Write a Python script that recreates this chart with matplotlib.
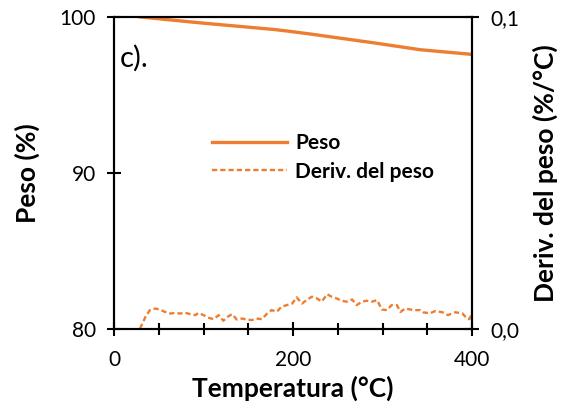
import matplotlib
matplotlib.use("Agg")
import matplotlib.pyplot as plt
from matplotlib.ticker import MultipleLocator, FuncFormatter

plt.rcParams['font.family'] = ['Lato', 'DejaVu Sans']

# weight curve (Peso, %)
temp_peso = [29, 100, 178, 193, 220, 245, 289, 342, 400]
peso = [100.0, 99.6, 99.2, 99.1, 98.9, 98.7, 98.35, 97.9, 97.6]

# derivative curve (%/°C)
temp_deriv = [29, 35, 40, 46, 51, 57, 63, 68, 74, 79, 85, 91, 94, 100, 105,
              111, 117, 122, 128, 132, 137, 143, 148, 154, 159, 165, 171,
              176, 182, 187, 193, 199, 204, 210, 215, 221, 227, 232, 238,
              243, 249, 254, 260, 266, 271, 277, 282, 288, 294, 299, 305,
              310, 316, 320, 325, 331, 336, 342, 345, 353, 359, 367, 373,
              381, 389, 394, 397, 400]
deriv = [0.0002, 0.0039, 0.0061, 0.0066, 0.0063, 0.0055, 0.0050, 0.0052,
         0.0050, 0.0053, 0.0048, 0.0045, 0.0052, 0.0045, 0.0037, 0.0032,
         0.0045, 0.0027, 0.0042, 0.0048, 0.0031, 0.0034, 0.0031, 0.0029,
         0.0034, 0.0032, 0.0050, 0.0061, 0.0056, 0.0072, 0.0077, 0.0082,
         0.0102, 0.0082, 0.0093, 0.0104, 0.0098, 0.0088, 0.0112, 0.0104,
         0.0098, 0.0091, 0.0088, 0.0095, 0.0077, 0.0088, 0.0091, 0.0088,
         0.0093, 0.0063, 0.0061, 0.0077, 0.0077, 0.0055, 0.0066, 0.0063,
         0.0061, 0.0061, 0.0054, 0.0051, 0.0058, 0.0054, 0.0045, 0.0054,
         0.0051, 0.0035, 0.0032, 0.0051]

orange = '#ED7D31'

fig = plt.figure(figsize=(5.62, 4.13), dpi=100)
ax = fig.add_axes([0.203, 0.203, 0.637, 0.756])
ax2 = ax.twinx()

l1, = ax.plot(temp_peso, peso, color=orange, lw=2.4, label='Peso')
l2, = ax2.plot(temp_deriv, deriv, color=orange, lw=1.7, ls=(0, (2.2, 1.3)),
               label='Deriv. del peso')

ax.set_xlim(0, 400)
ax.set_ylim(80, 100)
ax2.set_ylim(0, 0.1)

ax.xaxis.set_major_locator(MultipleLocator(200))
ax.xaxis.set_minor_locator(MultipleLocator(50))
ax.yaxis.set_major_locator(MultipleLocator(10))
ax2.yaxis.set_major_locator(MultipleLocator(0.1))
ax2.yaxis.set_major_formatter(FuncFormatter(lambda v, p: f'{v:.1f}'.replace('.', ',')))

for a in (ax, ax2):
    for s in a.spines.values():
        s.set_linewidth(1.5)
    a.tick_params(which='major', direction='inout', length=10, width=1.5,
                  labelsize=15, pad=8)
    a.tick_params(which='minor', direction='inout', length=8, width=1.5)
ax.tick_params(axis='x', pad=10)

ax.set_xlabel('Temperatura (°C)', fontsize=19, fontweight='bold', labelpad=4)
ax.set_ylabel('Peso (%)', fontsize=19, fontweight='bold', labelpad=14)
ax2.set_ylabel('Deriv. del peso (%/°C)', fontsize=19, fontweight='bold', labelpad=10)

ax.text(0.015, 0.84, 'c).', transform=ax.transAxes, fontsize=21)

ax.legend([l1, l2], ['Peso', 'Deriv. del peso'], loc='center left',
          bbox_to_anchor=(0.22, 0.55), frameon=False, handlelength=3.6,
          prop={'weight': 'bold', 'size': 15}, labelspacing=0.4, handletextpad=0.4)

fig.savefig('out.png', dpi=100)
